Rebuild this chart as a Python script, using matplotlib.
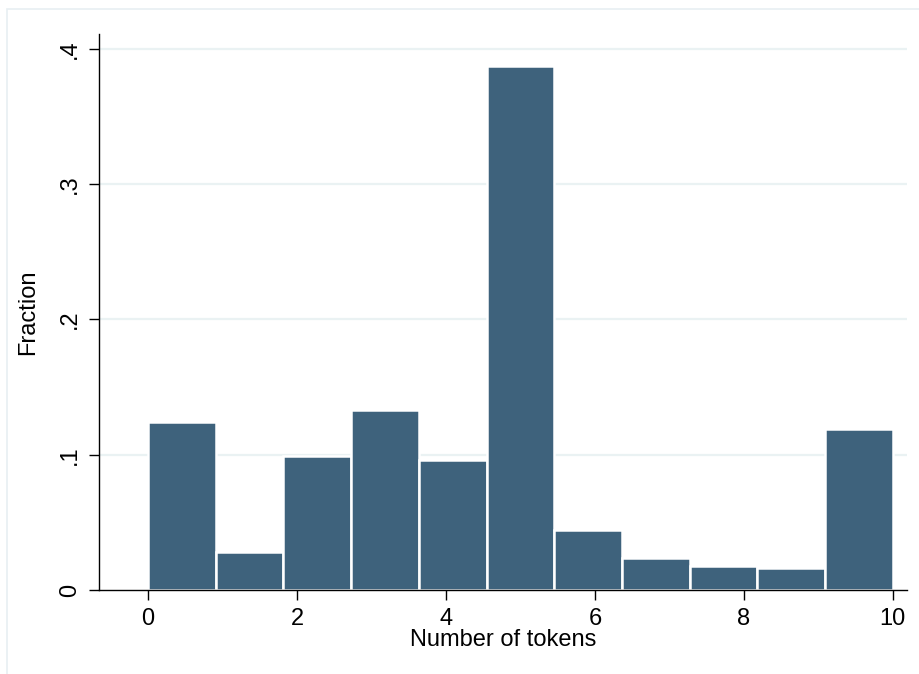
import numpy as np
import matplotlib
matplotlib.use("Agg")
import matplotlib.pyplot as plt
from matplotlib.patches import Rectangle

# histogram of token counts, 11 bins over 0..10
bin_edges = np.linspace(0, 10, 12)
fractions = [0.124, 0.0283, 0.0988, 0.1328, 0.0958, 0.387,
             0.0443, 0.0237, 0.018, 0.0163, 0.1192]
xticks = [0, 2, 4, 6, 8, 10]
yticks = [0, 0.1, 0.2, 0.3, 0.4]
ytick_labels = ["0", ".1", ".2", ".3", ".4"]

plt.rcParams['font.family'] = ['Liberation Sans', 'DejaVu Sans']

fig = plt.figure(figsize=(9.2, 6.74), dpi=100)
# faint outer frame like the Stata graph region
fig.patches.append(Rectangle((7/920, -0.05), 1.1, 1 - 9/674 + 0.05,
                             transform=fig.transFigure, fill=False,
                             edgecolor='#E8EFF2', linewidth=1.2))

ax = fig.add_axes([99/920, 84/674, 808/920, 556/674])

widths = np.diff(bin_edges)
ax.bar(bin_edges[:-1], fractions, width=widths, align='edge',
       color='#3E627C', edgecolor='white', linewidth=1.8, zorder=2)

for y in yticks[1:]:
    ax.axhline(y, color='#EAF2F3', linewidth=1.6, zorder=1)

ax.set_xlim(-0.658, 10.19)
ax.set_ylim(0, 0.411)
ax.set_xticks(xticks)
ax.set_yticks(yticks)
ax.set_yticklabels(ytick_labels, rotation=90, va='center')

ax.spines['top'].set_visible(False)
ax.spines['right'].set_visible(False)
ax.spines['left'].set_linewidth(1.0)
ax.spines['bottom'].set_linewidth(1.0)
ax.tick_params(axis='both', length=7, width=1.0, labelsize=17)
ax.tick_params(axis='x', pad=6)
ax.tick_params(axis='y', pad=6)

ax.set_xlabel("Number of tokens", fontsize=17, labelpad=-1)
ax.set_ylabel("Fraction", fontsize=17, labelpad=14)

fig.savefig("out.png", dpi=100)
